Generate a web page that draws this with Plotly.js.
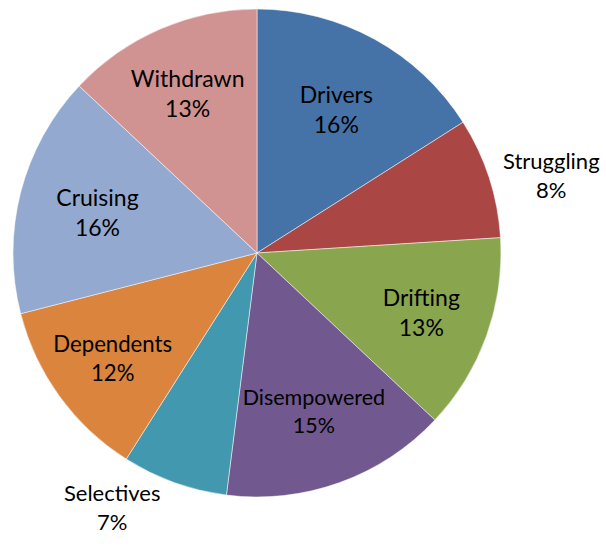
<!DOCTYPE html>
<html>
<head>
<meta charset="utf-8">
<script src="https://cdn.plot.ly/plotly-3.0.1.min.js"></script>
<style>html,body{margin:0;padding:0;background:#fff;}#chart{width:606px;height:550px;}</style>
</head>
<body>
<div id="chart"></div>
<script>
const categories = ["Drivers", "Struggling", "Drifting", "Disempowered", "Selectives", "Dependents", "Cruising", "Withdrawn"];
const values = [16, 8, 13, 15, 7, 12, 16, 13];
const colors = ["#4572A7", "#AA4643", "#89A54E", "#71588F", "#4198AF", "#DB843D", "#93A9CF", "#D19392"];
const textPositions = ["inside", "outside", "inside", "inside", "outside", "inside", "inside", "inside"];

const W = 606, H = 550;
const cx = 257, cy = 253, r = 244;

Plotly.newPlot("chart", [{
  type: "pie",
  labels: categories,
  values: values,
  sort: false,
  direction: "clockwise",
  rotation: 0,
  marker: {colors: colors, line: {color: "#ffffff", width: 0.5}},
  texttemplate: "%{label}<br>%{percent:.0%}",
  textposition: textPositions,
  insidetextorientation: "horizontal",
  textfont: {family: "Lato, 'Open Sans', sans-serif", size: 22, color: "#000000"},
  insidetextfont: {family: "Lato, 'Open Sans', sans-serif", size: 23, color: "#000000"},
  outsidetextfont: {family: "Lato, 'Open Sans', sans-serif", size: 22, color: "#000000"},
  domain: {x: [(cx - r) / W, (cx + r) / W], y: [(H - cy - r) / H, (H - cy + r) / H]},
  hoverinfo: "label+percent",
  automargin: false
}], {
  width: W, height: H,
  margin: {l: 0, r: 0, t: 0, b: 0},
  showlegend: false,
  paper_bgcolor: "#ffffff",
  font: {family: "Lato, 'Open Sans', sans-serif"}
}, {displayModeBar: false, staticPlot: true});
</script>
</body>
</html>
